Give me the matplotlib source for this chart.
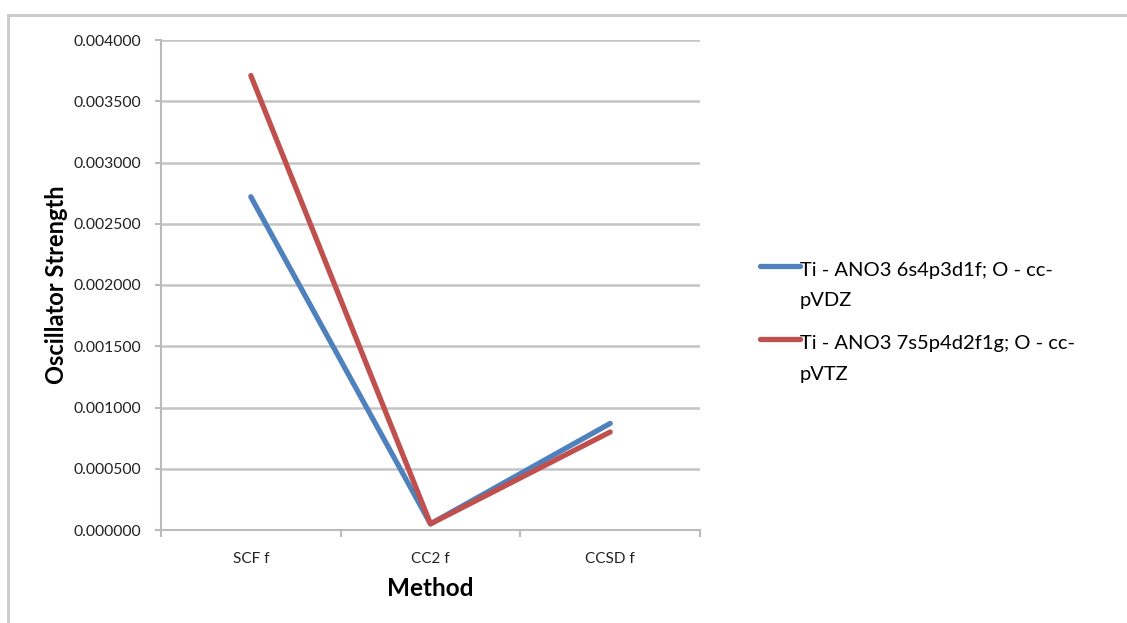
import numpy as np
import matplotlib.pyplot as plt
from matplotlib.patches import Rectangle
from matplotlib.legend_handler import HandlerLine2D
from matplotlib.ticker import FormatStrFormatter, FixedLocator

plt.rcParams['font.family'] = ['Lato', 'DejaVu Sans']

methods = ['SCF f', 'CC2 f', 'CCSD f']
small_basis = [0.00272, 0.00005, 0.00087]
large_basis = [0.00371, 0.00005, 0.00080]
labels = ['Ti - ANO3 6s4p3d1f; O - cc-\npVDZ', 'Ti - ANO3 7s5p4d2f1g; O - cc-\npVTZ']


# legend line sits next to the first text line, like Excel does
class TopLine(HandlerLine2D):
    def create_artists(self, legend, orig_handle, xdescent, ydescent, width, height, fontsize, trans):
        artists = super().create_artists(legend, orig_handle, xdescent, ydescent, width, height, fontsize, trans)
        for a in artists:
            a.set_ydata(np.asarray(a.get_ydata()) + 0.98 * fontsize)
        return artists


fig = plt.figure(figsize=(11.27, 6.23), dpi=100)
fig.patches.append(Rectangle((8 / 1127, -0.1), 1.2, 1 - 15 / 623 + 0.1, transform=fig.transFigure,
                             fill=False, edgecolor='#cccccc', linewidth=2.2))
ax = fig.add_axes([161 / 1127, 1 - 530 / 623, (700 - 161) / 1127, 490 / 623])

x = np.arange(len(methods))
ax.plot(x, small_basis, color='#4F81BD', lw=3.8, solid_capstyle='round', label=labels[0], zorder=3)
ax.plot(x, large_basis, color='#C0504D', lw=3.8, solid_capstyle='round', label=labels[1], zorder=3)

ax.set_xlim(-0.5, 2.5)
ax.set_ylim(0, 0.004)
ax.set_yticks(np.arange(0, 0.0041, 0.0005))
ax.yaxis.set_major_formatter(FormatStrFormatter('%.6f'))
ax.set_xticks(x)
ax.set_xticklabels(methods)
ax.xaxis.set_minor_locator(FixedLocator([-0.5, 0.5, 1.5, 2.5]))
ax.tick_params(axis='x', which='major', length=0, pad=16, labelsize=11, colors='#222222')
ax.tick_params(axis='x', which='minor', length=5, width=1.5, color='#bbbbbb', direction='out')
ax.tick_params(axis='y', length=4, width=1.5, color='#bbbbbb', labelsize=11.3, labelcolor='#222222', pad=10)

ax.grid(axis='y', color='#c4c4c4', lw=1.8)
ax.set_axisbelow(True)
for s in ['top', 'right']:
    ax.spines[s].set_visible(False)
for s in ['left', 'bottom']:
    ax.spines[s].set_color('#bbbbbb')
    ax.spines[s].set_linewidth(1.5)

ax.set_xlabel('Method', fontsize=17.5, fontweight='bold', labelpad=8)
ax.set_ylabel('Oscillator Strength', fontsize=17, fontweight='bold')
ax.yaxis.set_label_coords(-0.172, 0.5)

leg = ax.legend(loc='center left', bbox_to_anchor=(1.077, 0.424), frameon=False, fontsize=14.5,
                handlelength=2.0, handletextpad=0.0, labelspacing=1.3,
                handler_map={plt.Line2D: TopLine()})
for t in leg.get_texts():
    t.set_linespacing(1.95)

fig.savefig('out.png', dpi=100)
